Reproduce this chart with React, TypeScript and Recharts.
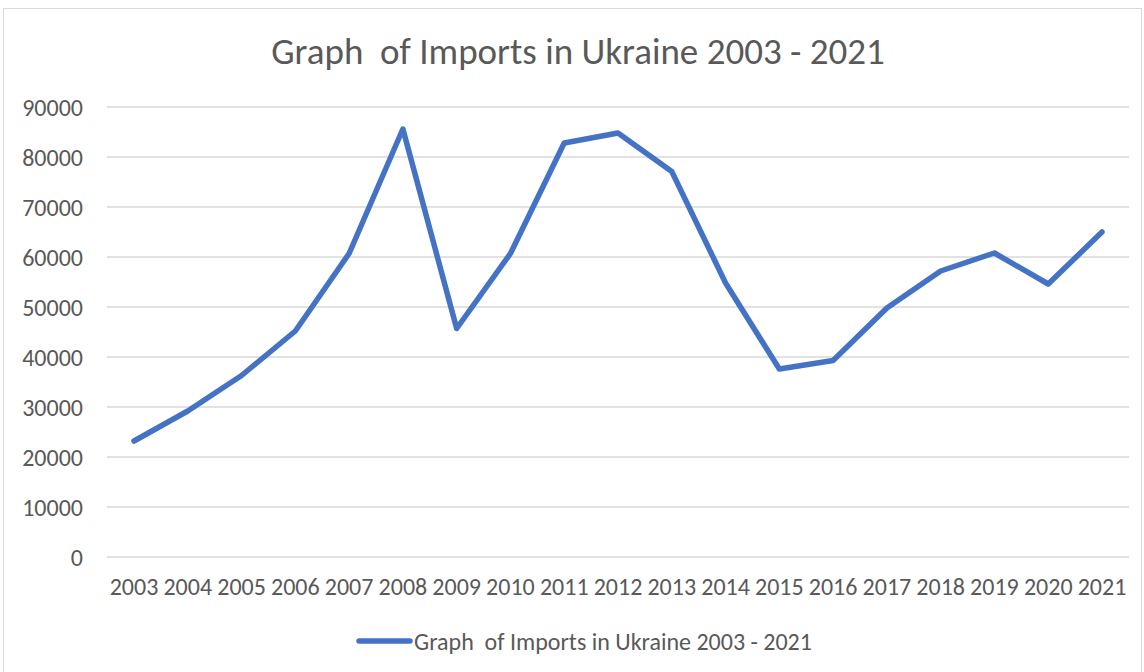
import React from 'react';
import { LineChart, Line, XAxis, YAxis, CartesianGrid, Legend } from 'recharts';

const title = 'Graph  of Imports in Ukraine 2003 - 2021';

const years = [
  '2003', '2004', '2005', '2006', '2007', '2008', '2009', '2010', '2011', '2012',
  '2013', '2014', '2015', '2016', '2017', '2018', '2019', '2020', '2021',
];

const imports = [
  23200, 29200, 36300, 45200, 60700, 85600, 45700, 60700, 82800, 84800,
  77100, 54800, 37600, 39300, 49800, 57200, 60800, 54600, 65000,
];

const yTicks = [0, 10000, 20000, 30000, 40000, 50000, 60000, 70000, 80000, 90000];

const data = years.map((year, i) => ({ year, value: imports[i] }));

const FONT = "Carlito, Calibri, 'Liberation Sans', Arial, sans-serif";
const LINE = '#4472C4';
const TEXT = '#595959';

const renderLegend = () => (
  <div style={{ display: 'flex', justifyContent: 'center', alignItems: 'center', height: 30, paddingLeft: 24, fontFamily: FONT, fontSize: 24, color: TEXT, whiteSpace: 'pre' }}>
    <svg width={57} height={10} style={{ marginRight: 1 }}>
      <line x1={3} y1={5} x2={54} y2={5} stroke={LINE} strokeWidth={5.5} strokeLinecap="round" />
    </svg>
    <span>{title}</span>
  </div>
);

export default function App() {
  return (
    <div style={{ position: 'absolute', top: 0, left: 0, width: 1144, height: 672, background: '#fff', overflow: 'hidden' }}>
      <div style={{ position: 'absolute', left: 3, top: 8, width: 1137, height: 670, border: '1px solid #d9d9d9' }} />
      <div style={{ position: 'absolute', top: 29, left: 6, width: 1144, textAlign: 'center', fontFamily: FONT, fontSize: 37, color: TEXT, whiteSpace: 'pre' }}>
        {title}
      </div>
      <LineChart
        width={1144}
        height={672}
        data={data}
        margin={{ top: 107, right: 15, left: 0, bottom: 45 }}
        style={{ position: 'absolute', top: 0, left: 0 }}
      >
        <CartesianGrid vertical={false} stroke="#d9d9d9" strokeWidth={1.5} />
        <XAxis
          dataKey="year"
          axisLine={false}
          tickLine={false}
          tickSize={0}
          tickMargin={21}
          height={40}
          interval={0}
          padding={{ left: 27, right: 27 }}
          tick={{ fill: TEXT, fontSize: 24, fontFamily: FONT }}
        />
        <YAxis
          domain={[0, 90000]}
          ticks={yTicks}
          axisLine={false}
          tickLine={false}
          tickSize={0}
          tickMargin={24}
          width={107}
          interval={0}
          tick={{ fill: TEXT, fontSize: 24, fontFamily: FONT }}
        />
        <Legend
          height={30}
          content={renderLegend}
          wrapperStyle={{ position: 'absolute', top: 626, left: 0, width: 1144, bottom: 'auto' }}
        />
        <Line
          type="linear"
          dataKey="value"
          name={title}
          stroke={LINE}
          strokeWidth={5.5}
          strokeLinecap="round"
          strokeLinejoin="round"
          dot={false}
          activeDot={false}
          isAnimationActive={false}
        />
      </LineChart>
    </div>
  );
}
